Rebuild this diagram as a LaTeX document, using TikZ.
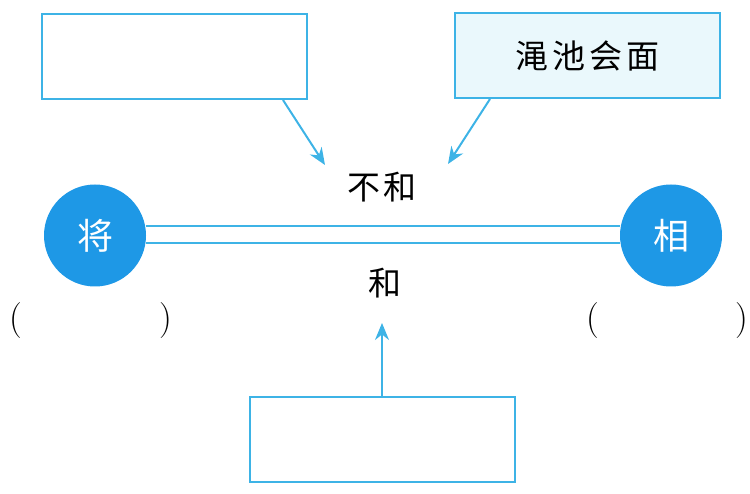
\documentclass[tikz,border=0pt]{standalone}
\usepackage{fontspec}
\newfontfamily\cjk{Noto Sans CJK SC}
\usetikzlibrary{arrows.meta}
\definecolor{lineblue}{HTML}{3DB3E6}
\definecolor{circblue}{HTML}{1E98E6}
\definecolor{boxfill}{HTML}{EAF8FC}
\tikzset{
  blankbox/.style={draw=lineblue, line width=2pt, minimum width=265pt, minimum height=85pt, inner sep=0pt},
  person/.style={circle, fill=circblue, minimum size=102pt, inner sep=0pt, text=white, font=\cjk\fontsize{36}{36}\selectfont},
  label/.style={font=\cjk\fontsize{33}{33}\selectfont, text=black, inner sep=0pt},
  paren/.style={font=\fontsize{36}{36}\selectfont, inner sep=0pt},
  arr/.style={draw=lineblue, line width=2pt, -{Stealth[length=17pt,width=14pt]}},
  link/.style={draw=lineblue, line width=2pt}
}
\begin{document}
\begin{tikzpicture}[x=1pt,y=-1pt]
\useasboundingbox (0,0) rectangle (750,494);
\node[blankbox] (tl) at (174.5,56.5) {};
\node[blankbox, fill=boxfill, label] (tr) at (587.5,55.5) {渑\hspace{4pt}池\hspace{4pt}会\hspace{4pt}面};
\node[blankbox] (bt) at (382,439.5) {};
\node[person] (jiang) at (95,235.5) {将};
\node[person] (xiang) at (671,235.5) {相};
\node[label] (buhe) at (382,187) {不\hspace{4pt}和};
\node[label] (he) at (385,283) {和};
\node[paren] (pl) at (91,321) {(\hspace{137pt})};
\node[paren] (pr) at (667.5,321) {(\hspace{136pt})};
\coordinate (t1) at (325,165);
\coordinate (t2) at (448,164);
\coordinate (t3) at (382,323);
\draw[arr] ([xshift=108.5pt]tl.south) -- (t1);
\draw[arr] ([xshift=-97.5pt]tr.south) -- (t2);
\draw[arr] (bt.north) -- (t3);
\draw[link] ([yshift=9pt]jiang.east) -- ([yshift=9pt]xiang.west);
\draw[link] ([yshift=-8pt]jiang.east) -- ([yshift=-8pt]xiang.west);
\end{tikzpicture}
\end{document}
